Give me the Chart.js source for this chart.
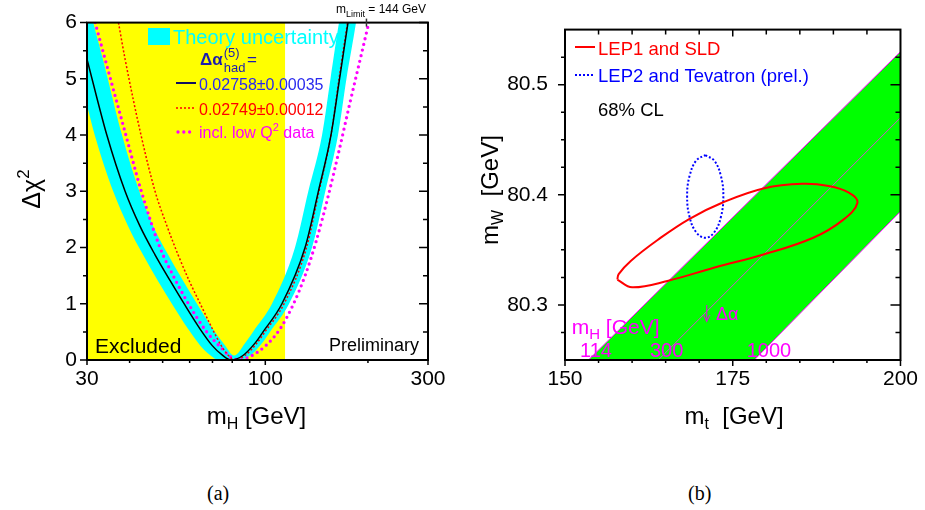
<!DOCTYPE html>
<html>
<head>
<meta charset="utf-8">
<title>Electroweak fit: Δχ² vs mH, mW vs mt</title>
<script src="https://cdn.jsdelivr.net/npm/chart.js@4.4.1/dist/chart.umd.min.js"></script>
<style>
  html, body { margin: 0; padding: 0; background: #fff; }
  body { width: 925px; height: 510px; position: relative; overflow: hidden; }
  canvas { position: absolute; top: 0; }
  #chartA { left: 0; }
  #chartB { left: 460px; }
  .cap { position: absolute; top: 482px; font: 20px 'Liberation Serif', 'Times New Roman', serif; line-height: 22px; }
</style>
</head>
<body>
<canvas id="chartA" width="460" height="440"></canvas>
<canvas id="chartB" width="465" height="440"></canvas>
<div class="cap" style="left:207px">(a)</div>
<div class="cap" style="left:688px">(b)</div>
<script>
const FONT = "'Liberation Sans', Arial, Helvetica, sans-serif";
Chart.defaults.font.family = FONT;
Chart.defaults.color = '#000';

// ---------- panel (a): delta chi^2 vs m_H ----------
const mhLabels = [30, 100, 300];
const mhMinor = [40, 50, 60, 70, 80, 90, 200];
const chiMajor = [0, 1, 2, 3, 4, 5, 6];
const chiMinor = [0.5, 1.5, 2.5, 3.5, 4.5, 5.5];

const excludedMH = [30, 114.4];
const excludedChi = [6, 6];

// 0.02758 +- 0.00035 (central fit)
const fitMH  = [30, 34.3, 38.8, 42.9, 47.5, 52.6, 58.2, 64.4, 69.8, 74.7, 79.3, 86.0, 93.3, 98.5, 111.9, 130.8, 143.1, 155.8, 165.1, 174.8];
const fitChi = [5.35, 4.0, 3.0, 2.38, 1.87, 1.41, 0.97, 0.55, 0.26, 0.09, 0, 0.08, 0.3, 0.5, 1.0, 2.0, 3.0, 4.0, 5.0, 6.0];

// theory uncertainty band (upper and lower edge)
const bandHiMH  = [30, 31.3, 33.4, 38.0, 42.7, 46.9, 51.9, 57.4, 63.5, 70.2, 76.2, 81.0, 87.2, 92.0, 104.6, 122.2, 133.7, 146.7, 155.3, 164.5, 189.5];
const bandHiChi = [6.48, 6.0, 5.35, 4.0, 3.0, 2.38, 1.87, 1.41, 0.97, 0.55, 0.26, 0.08, 0.3, 0.5, 1.0, 2.0, 3.0, 4.0, 5.0, 6.0, 8.0];
const bandLoMH  = [30, 31.6, 35.8, 39.6, 43.8, 48.4, 53.6, 59.4, 64.4, 68.8, 73.2, 83.2, 90.2, 97.8, 103.2, 117.4, 137.1, 150.0, 163.4, 173.0, 184.5, 189.5];
const bandLoChi = [4.53, 4.0, 3.0, 2.38, 1.87, 1.41, 0.97, 0.55, 0.26, 0.09, 0, 0, 0.08, 0.3, 0.5, 1.0, 2.0, 3.0, 4.0, 5.0, 6.0, 6.5];

// 0.02749 +- 0.00012
const altMH  = [37.1, 38.8, 43.2, 47.5, 51.5, 55.5, 59.8, 64.8, 70.0, 74.2, 77.7, 81.5, 87.2, 94.5, 99.8, 113.5, 132.1, 143.7, 155.8, 164.5, 174.2];
const altChi = [6, 5.35, 4, 3, 2.38, 1.87, 1.41, 0.97, 0.55, 0.26, 0.09, 0, 0.08, 0.3, 0.5, 1.0, 2.0, 3.0, 4.0, 5.0, 6.0];

// incl. low Q^2 data
const lowQMH  = [31.7, 33.9, 39.0, 43.3, 49.1, 54.0, 59.5, 67.3, 74.7, 79.3, 83.7, 91.4, 100.5, 110.4, 120.6, 130.8, 140.8, 152.7, 164.5, 177.2, 189.5, 202.1];
const lowQChi = [6, 5.35, 4, 3, 2, 1.47, 1.0, 0.5, 0.2, 0.05, 0, 0.08, 0.26, 0.55, 0.98, 1.5, 2.1, 2.9, 3.72, 4.58, 5.33, 6.05];

const mLimitMarker = 198;

// ---------- panel (b): m_W vs m_t ----------
const mtLabels = [150, 175, 200];
const mtMinor = [155, 160, 165, 170, 180, 185, 190, 195];
const mwLabels = [80.3, 80.4, 80.5];
const mwMinor = [80.275, 80.325, 80.35, 80.375, 80.425, 80.45, 80.475, 80.525];

// LEP1 and SLD 68% contour
const lepMT = [157.8, 160.0, 165.4, 172.3, 179.7, 187.0, 191.4, 193.6, 192.3, 189.3, 185.4, 179.7, 173.5, 168.5, 163.8, 159.8, 158.0, 157.8];
const lepMW = [80.323, 80.316, 80.322, 80.334, 80.346, 80.361, 80.377, 80.393, 80.402, 80.408, 80.410, 80.406, 80.393, 80.378, 80.359, 80.340, 80.328, 80.323];

// LEP2 and Tevatron (prel.) 68% contour
const tevMT = [170.9, 172.25, 173.24, 173.6, 173.24, 172.25, 170.9, 169.55, 168.56, 168.2, 168.56, 169.55, 170.9];
const tevMW = [80.436, 80.431, 80.417, 80.399, 80.380, 80.366, 80.361, 80.366, 80.380, 80.399, 80.417, 80.431, 80.436];

// SM band, lines of constant m_H = 114, 300, 1000 GeV
const h114MT = [153.5, 200],  h114MW = [80.25, 80.530];
const h300MT = [163.9, 200],  h300MW = [80.25, 80.470];
const h1000MT = [178.2, 200], h1000MW = [80.25, 80.385];

// ---------- helpers ----------
const xy = (xs, ys) => xs.map((x, i) => ({ x, y: ys[i] }));
const NONE = 'rgba(0,0,0,0)';

function curve(data, color, width, dash, extra) {
  return Object.assign({
    data, borderColor: color, borderWidth: width, borderDash: dash || [],
    pointRadius: 0, fill: false, cubicInterpolationMode: 'monotone'
  }, extra || {});
}

function rich(ctx, x, y, parts, align, color) {
  ctx.save();
  ctx.fillStyle = color;
  ctx.textBaseline = 'alphabetic';
  ctx.textAlign = 'left';
  const fontOf = p => (p.b ? 'bold ' : '') + p.s + 'px ' + FONT;
  let w = 0;
  for (const p of parts) { ctx.font = fontOf(p); w += ctx.measureText(p.t).width; }
  let cx = align === 'center' ? x - w / 2 : align === 'right' ? x - w : x;
  for (const p of parts) {
    ctx.font = fontOf(p);
    ctx.fillText(p.t, cx, y + (p.dy || 0));
    cx += ctx.measureText(p.t).width;
  }
  ctx.restore();
}

function frameAndTicks(chart, ticks) {
  const ctx = chart.ctx, a = chart.chartArea;
  ctx.save();
  ctx.strokeStyle = '#000';
  ctx.lineWidth = 1.5;
  ctx.beginPath();
  for (const [axis, side, values, len] of ticks) {
    const sc = chart.scales[axis];
    for (const v of values) {
      const p = sc.getPixelForValue(v);
      if (side === 'left')   { ctx.moveTo(a.left, p);   ctx.lineTo(a.left - len, p); }
      if (side === 'right')  { ctx.moveTo(a.right, p);  ctx.lineTo(a.right - len, p); }
      if (side === 'bottom') { ctx.moveTo(p, a.bottom); ctx.lineTo(p, a.bottom + len); }
      if (side === 'top')    { ctx.moveTo(p, a.top);    ctx.lineTo(p, a.top + len); }
    }
  }
  ctx.stroke();
  ctx.lineWidth = 2;
  ctx.strokeRect(a.left, a.top, a.right - a.left, a.bottom - a.top);
  ctx.restore();
}

function sample(ctx, x1, x2, y, color, width, dash, cap) {
  ctx.save();
  ctx.strokeStyle = color;
  ctx.lineWidth = width;
  ctx.setLineDash(dash || []);
  ctx.lineCap = cap || 'butt';
  ctx.beginPath(); ctx.moveTo(x1, y); ctx.lineTo(x2, y); ctx.stroke();
  ctx.restore();
}

function axisOpts(extra) {
  return Object.assign({
    grid: { display: false, drawTicks: false },
    border: { display: false }
  }, extra);
}

// ---------- chart (a) ----------
const panelA = {
  id: 'panelA',
  afterDatasetsDraw(chart) {
    const ctx = chart.ctx, a = chart.chartArea;
    frameAndTicks(chart, [
      ['y', 'left', chiMajor, 7], ['y', 'left', chiMinor, 4],
      ['y', 'right', chiMajor, 9], ['y', 'right', chiMinor, 5],
      ['x', 'bottom', mhLabels, 5], ['x', 'bottom', mhMinor, 3]
    ]);
    // m_Limit marker on top axis
    const xm = chart.scales.x.getPixelForValue(mLimitMarker);
    ctx.save(); ctx.strokeStyle = '#333'; ctx.lineWidth = 1.5;
    ctx.beginPath(); ctx.moveTo(xm, a.top - 4); ctx.lineTo(xm, a.top + 4); ctx.stroke(); ctx.restore();
    rich(ctx, 426, 13, [{ t: 'm', s: 12 }, { t: 'Limit', s: 9, dy: 3.5 }, { t: ' = 144 GeV', s: 12 }], 'right', '#000');

    // legend
    ctx.fillStyle = '#00ffff';
    ctx.fillRect(148, 28, 22, 17);
    rich(ctx, 173, 44, [{ t: 'Theory uncertainty', s: 20 }], 'left', '#00ffff');
    ctx.save();
    ctx.fillStyle = '#1c1cb0';
    ctx.font = 'bold 17px ' + FONT;
    ctx.fillText('Δα', 200, 65);
    const wd = ctx.measureText('Δα').width;
    ctx.font = '13px ' + FONT;
    ctx.fillText('(5)', 201 + wd, 57);
    ctx.fillText('had', 201 + wd, 72);
    ctx.font = '17px ' + FONT;
    ctx.fillText('=', 247, 65);
    ctx.restore();
    sample(ctx, 176, 196, 83, '#101060', 2);
    rich(ctx, 199, 89.5, [{ t: '0.02758±0.00035', s: 16 }], 'left', '#2a2aee');
    sample(ctx, 176, 196, 108, '#ff0000', 1.5, [2, 2]);
    rich(ctx, 199, 114.5, [{ t: '0.02749±0.00012', s: 16 }], 'left', '#ff0000');
    sample(ctx, 178, 194, 132, '#ff00ff', 3.3, [0, 5.8], 'round');
    rich(ctx, 199, 138, [{ t: 'incl. low Q', s: 16 }, { t: '2', s: 11, dy: -7 }, { t: ' data', s: 16 }], 'left', '#ff00ff');

    rich(ctx, 95, 353, [{ t: 'Excluded', s: 21 }], 'left', '#000');
    rich(ctx, 419, 351, [{ t: 'Preliminary', s: 18 }], 'right', '#000');

    // axis titles
    rich(ctx, 256.5, 423.5, [{ t: 'm', s: 24 }, { t: 'H', s: 16, dy: 5 }, { t: ' [GeV]', s: 24 }], 'center', '#000');
    ctx.save();
    ctx.translate(40, 189);
    ctx.rotate(-Math.PI / 2);
    rich(ctx, 0, 0, [{ t: 'Δχ', s: 25 }, { t: '2', s: 17, dy: -11 }], 'center', '#000');
    ctx.restore();
  }
};

new Chart(document.getElementById('chartA'), {
  type: 'line',
  data: {
    datasets: [
      curve(xy(fitMH, fitChi), '#000000', 1.5),
      curve(xy(altMH, altChi), '#ff0000', 1.5, [2, 2]),
      curve(xy(lowQMH, lowQChi), '#ff00ff', 3.3, [0, 5.8], { borderCapStyle: 'round' }),
      curve(xy(bandHiMH, bandHiChi), NONE, 0, null, { fill: '+1', backgroundColor: '#00ffff' }),
      curve(xy(bandLoMH, bandLoChi), NONE, 0),
      { data: xy(excludedMH, excludedChi), borderColor: NONE, borderWidth: 0, pointRadius: 0,
        fill: 'origin', backgroundColor: '#ffff00' }
    ]
  },
  options: {
    responsive: false,
    animation: false,
    events: [],
    layout: { padding: { top: 20, right: 32, left: 0, bottom: 0 } },
    plugins: { legend: { display: false }, tooltip: { enabled: false } },
    scales: {
      x: axisOpts({
        type: 'logarithmic', min: 30, max: 300,
        ticks: { font: { size: 21 }, color: '#000', padding: 7, autoSkip: false, maxRotation: 0,
                 callback: v => String(v) },
        afterBuildTicks: s => { s.ticks = mhLabels.map(v => ({ value: v })); },
        afterFit: s => { s.height = 80; }
      }),
      y: axisOpts({
        type: 'linear', min: 0, max: 6,
        ticks: { font: { size: 21 }, color: '#000', padding: 10 },
        afterBuildTicks: s => { s.ticks = chiMajor.map(v => ({ value: v })); },
        afterFit: s => { s.width = 87; }
      })
    }
  },
  plugins: [panelA]
});

// ---------- chart (b) ----------
const panelB = {
  id: 'panelB',
  afterDatasetsDraw(chart) {
    const ctx = chart.ctx;
    frameAndTicks(chart, [
      ['y', 'left', mwLabels, 7], ['y', 'left', mwMinor, 4],
      ['y', 'right', mwLabels, 10], ['y', 'right', mwMinor, 5],
      ['x', 'bottom', mtLabels, 6], ['x', 'bottom', mtMinor, 3],
      ['x', 'top', [175], 7], ['x', 'top', mtMinor, 5]
    ]);
    // legend
    sample(ctx, 115, 135, 47, '#ff0000', 2);
    rich(ctx, 138, 55, [{ t: 'LEP1 and SLD', s: 18.5 }], 'left', '#ff0000');
    sample(ctx, 115, 135, 75, '#0000ff', 2, [2, 2]);
    rich(ctx, 138, 82, [{ t: 'LEP2 and Tevatron (prel.)', s: 18.5 }], 'left', '#0000ff');
    rich(ctx, 138, 116, [{ t: '68% CL', s: 18.5 }], 'left', '#000');

    // band labels
    rich(ctx, 111.7, 333.5, [{ t: 'm', s: 21 }, { t: 'H', s: 15, dy: 5 }, { t: ' [GeV]', s: 21 }], 'left', '#ff00ff');
    rich(ctx, 120, 357, [{ t: '114', s: 20 }], 'left', '#ff00ff');
    rich(ctx, 190, 357, [{ t: '300', s: 20 }], 'left', '#ff00ff');
    rich(ctx, 286.7, 357, [{ t: '1000', s: 20 }], 'left', '#ff00ff');
    rich(ctx, 256, 320, [{ t: 'Δα', s: 18 }], 'left', '#ff00ff');
    ctx.save();
    ctx.strokeStyle = '#cc22cc'; ctx.lineWidth = 1.2;
    ctx.beginPath();
    ctx.moveTo(246.7, 305); ctx.lineTo(246.7, 321.5);
    ctx.moveTo(243.5, 315); ctx.lineTo(246.7, 321.5); ctx.lineTo(249.9, 315);
    ctx.stroke();
    ctx.restore();

    // axis titles
    rich(ctx, 274, 423.5, [{ t: 'm', s: 24 }, { t: 't', s: 16, dy: 5 }, { t: '  [GeV]', s: 24 }], 'center', '#000');
    ctx.save();
    ctx.translate(38, 190);
    ctx.rotate(-Math.PI / 2);
    rich(ctx, 0, 0, [{ t: 'm', s: 24 }, { t: 'W', s: 16, dy: 5 }, { t: '  [GeV]', s: 24 }], 'center', '#000');
    ctx.restore();
  }
};

const bandShape = [
  { x: h114MT[0], y: h114MW[0] }, { x: h114MT[1], y: h114MW[1] },
  { x: h1000MT[1], y: h1000MW[1] }, { x: h1000MT[0], y: h1000MW[0] },
  { x: h114MT[0], y: h114MW[0] }
];

new Chart(document.getElementById('chartB'), {
  type: 'line',
  data: {
    datasets: [
      { data: xy(lepMT, lepMW), borderColor: '#ff0000', borderWidth: 2, tension: 0.4, pointRadius: 0, fill: false },
      { data: xy(tevMT, tevMW), borderColor: '#0000ff', borderWidth: 2, borderDash: [2, 2], tension: 0.4, pointRadius: 0, fill: false },
      { data: xy(h300MT, h300MW), borderColor: '#d050d0', borderWidth: 1, pointRadius: 0, fill: false },
      { data: xy(h114MT, h114MW), borderColor: '#ff00ff', borderWidth: 1, pointRadius: 0, fill: false },
      { data: xy(h1000MT, h1000MW), borderColor: '#ff00ff', borderWidth: 1, pointRadius: 0, fill: false },
      { data: bandShape, borderColor: NONE, borderWidth: 0, pointRadius: 0, fill: 'shape', backgroundColor: '#00ff00' }
    ]
  },
  options: {
    responsive: false,
    animation: false,
    events: [],
    layout: { padding: { top: 20, right: 20, left: 0, bottom: 0 } },
    plugins: { legend: { display: false }, tooltip: { enabled: false } },
    scales: {
      x: axisOpts({
        type: 'linear', min: 150, max: 200,
        ticks: { font: { size: 21 }, color: '#000', padding: 7, autoSkip: false, maxRotation: 0 },
        afterBuildTicks: s => { s.ticks = mtLabels.map(v => ({ value: v })); },
        afterFit: s => { s.height = 80; }
      }),
      y: axisOpts({
        type: 'linear', min: 80.25, max: 80.55,
        ticks: { font: { size: 21 }, color: '#000', padding: 17, callback: v => v.toFixed(1) },
        afterBuildTicks: s => { s.ticks = mwLabels.map(v => ({ value: v })); },
        afterFit: s => { s.width = 105; }
      })
    }
  },
  plugins: [panelB]
});
</script>
</body>
</html>
